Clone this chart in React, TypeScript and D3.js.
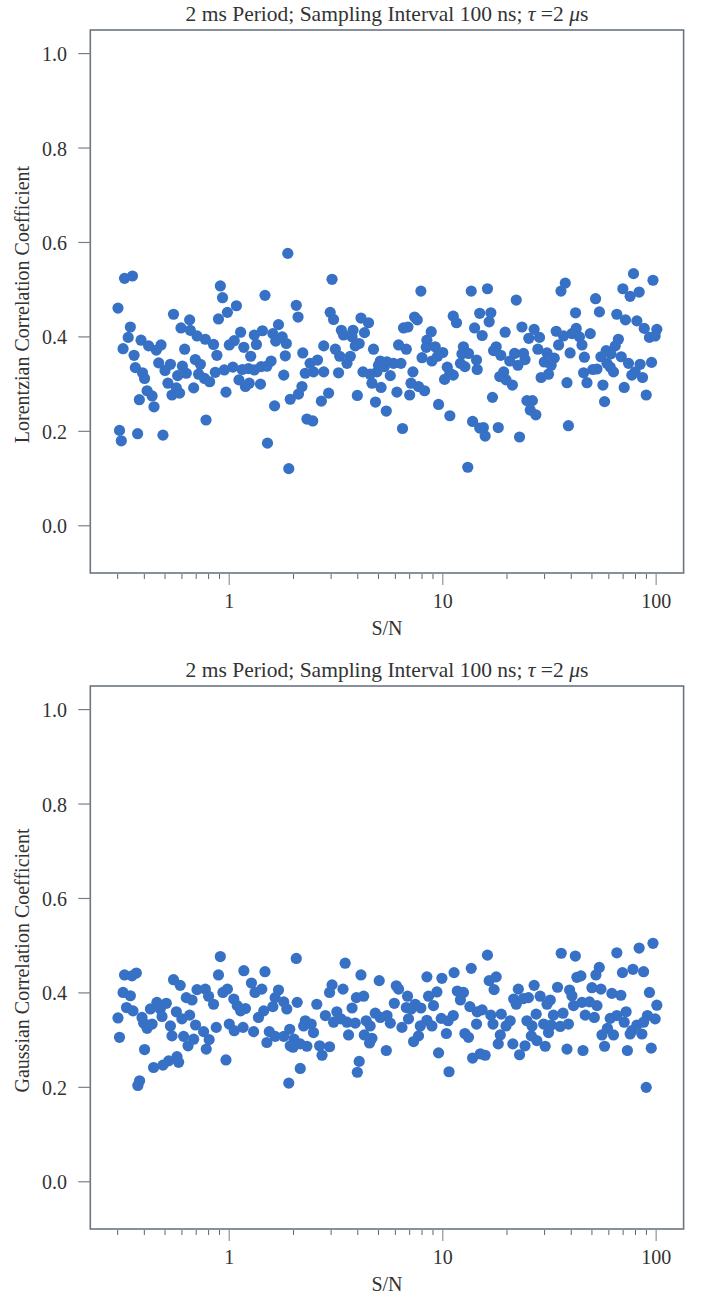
import React from "react";
import * as d3 from "d3";

// ---------- DATA ----------
const titleText = "2 ms Period; Sampling Interval 100 ns; ";
const xLabel = "S/N";
const topYLabel = "Lorentzian Correlation Coefficient";
const bottomYLabel = "Gaussian Correlation Coefficient";
const yTickValues = [0, 0.2, 0.4, 0.6, 0.8, 1.0];
const xMajorTicks = [1, 10, 100];

// Lorentzian panel: S/N and correlation coefficient
const lorentzSN = [
  1.88, 0.323, 0.352, 0.908, 0.93, 1.47, 0.301, 1.08, 0.98, 0.548, 0.89, 0.652, 0.594, 0.344, 0.336, 0.318, 0.386, 0.419, 0.479, 0.455,
  0.358, 0.618, 0.657, 0.706, 0.772, 0.844, 0.875, 1.0, 1.055, 1.13, 1.17, 1.31, 1.43, 1.34, 1.26, 1.6, 1.7, 1.77, 1.65, 1.85,
  1.83, 0.363, 0.392, 0.401, 0.467, 0.5, 0.53, 0.573, 0.603, 0.629, 0.693, 0.732, 0.718, 0.766, 0.809, 0.86, 0.948, 1.04, 1.15, 1.23,
  1.31, 1.41, 1.5, 1.57, 1.8, 1.11, 1.24, 1.19, 1.4, 0.516, 0.565, 0.412, 0.435, 0.379, 0.444, 0.539, 0.585, 0.681, 0.965, 1.63,
  1.93, 0.778, 0.306, 0.312, 0.372, 0.489, 1.51, 1.9,
  3.03, 2.06, 2.1, 2.97, 3.08, 4.14, 4.49, 4.3, 3.35, 3.43, 3.8, 3.76, 4.06, 3.89, 2.77, 3.14, 3.29, 2.21, 4.74, 6.21,
  6.75, 6.55, 6.87, 7.38, 7.6, 7.9, 8.83, 8.43, 8.37, 9.22, 10.0, 8.0, 8.9, 9.46, 11.2, 11.6, 13.6, 14.1, 14.9, 12.5,
  12.3, 13.2, 14.4, 14.5, 12.1, 12.7, 10.5, 10.8, 10.2, 11.2, 7.25, 7.1, 7.7, 8.22, 7.0, 6.1, 5.68, 6.37, 5.88, 5.48,
  5.1, 5.0, 5.32, 4.92, 4.57, 4.23, 4.66, 5.14, 4.84, 5.44, 3.98, 6.48, 9.56, 10.8, 13.8, 13.1, 3.69, 3.56, 3.25, 2.77,
  2.59, 2.39, 2.48, 2.27, 2.19, 2.11, 2.92, 2.7, 2.31, 2.46, 14.9,
  78.3, 96.6, 37.5, 35.8, 69.8, 75.5, 83.2, 52.0, 16.2, 22.1, 16.8, 16.5, 15.3, 19.6, 23.5, 26.8, 25.3, 28.4, 34.0, 36.8,
  34.9, 41.9, 42.2, 40.3, 43.7, 44.9, 49.1, 54.2, 65.4, 71.8, 81.2, 87.9, 100.7, 93.0, 98.9, 66.5, 64.3, 17.8, 17.3, 18.7,
  21.7, 23.9, 24.3, 20.6, 22.5, 27.9, 30.8, 33.3, 29.9, 32.2, 39.5, 46.1, 55.1, 58.3, 61.4, 68.6, 74.2, 58.8, 60.9, 63.1,
  52.8, 50.5, 45.7, 47.4, 56.3, 84.1, 95.1, 79.7, 76.9, 86.3, 70.8, 89.8, 57.3, 38.2, 31.3, 28.9, 19.3, 18.5, 19.8, 21.2,
  17.1, 24.8, 26.3, 25.7, 27.3, 15.5, 15.8, 18.2, 22.9, 38.8,
];
const lorentzR = [
  0.577, 0.524, 0.529, 0.508, 0.483, 0.488, 0.461, 0.466, 0.452, 0.448, 0.438, 0.436, 0.419, 0.421, 0.399, 0.375, 0.393, 0.381, 0.383, 0.372,
  0.361, 0.374, 0.414, 0.402, 0.395, 0.384, 0.361, 0.383, 0.392, 0.41, 0.378, 0.404, 0.413, 0.384, 0.359, 0.407, 0.426, 0.4, 0.391, 0.386,
  0.36, 0.335, 0.324, 0.312, 0.345, 0.329, 0.342, 0.318, 0.338, 0.323, 0.352, 0.342, 0.321, 0.312, 0.305, 0.325, 0.33, 0.336, 0.331, 0.333,
  0.33, 0.337, 0.338, 0.349, 0.319, 0.309, 0.302, 0.295, 0.3, 0.302, 0.292, 0.286, 0.275, 0.267, 0.252, 0.277, 0.281, 0.292, 0.283, 0.254,
  0.268, 0.224, 0.202, 0.18, 0.195, 0.192, 0.175, 0.121,
  0.522, 0.467, 0.442, 0.452, 0.437, 0.44, 0.43, 0.409, 0.414, 0.404, 0.414, 0.4, 0.386, 0.381, 0.381, 0.374, 0.359, 0.366, 0.374, 0.383,
  0.374, 0.419, 0.421, 0.442, 0.436, 0.497, 0.411, 0.393, 0.378, 0.379, 0.367, 0.356, 0.349, 0.359, 0.444, 0.43, 0.497, 0.419, 0.45, 0.379,
  0.364, 0.365, 0.351, 0.331, 0.344, 0.337, 0.336, 0.323, 0.31, 0.319, 0.326, 0.302, 0.295, 0.286, 0.277, 0.283, 0.318, 0.344, 0.344, 0.347,
  0.349, 0.34, 0.337, 0.326, 0.321, 0.326, 0.302, 0.293, 0.262, 0.243, 0.276, 0.206, 0.257, 0.233, 0.221, 0.124, 0.359, 0.344, 0.324, 0.326,
  0.351, 0.344, 0.326, 0.323, 0.295, 0.279, 0.281, 0.264, 0.226, 0.222, 0.207,
  0.534, 0.52, 0.514, 0.497, 0.502, 0.486, 0.495, 0.481, 0.502, 0.478, 0.451, 0.432, 0.403, 0.41, 0.421, 0.416, 0.397, 0.399, 0.412, 0.402,
  0.383, 0.451, 0.418, 0.407, 0.4, 0.383, 0.407, 0.453, 0.448, 0.436, 0.434, 0.418, 0.416, 0.399, 0.402, 0.395, 0.381, 0.379, 0.371, 0.361,
  0.365, 0.365, 0.352, 0.349, 0.34, 0.374, 0.366, 0.355, 0.347, 0.34, 0.366, 0.357, 0.358, 0.371, 0.364, 0.358, 0.344, 0.344, 0.336, 0.326,
  0.332, 0.331, 0.324, 0.303, 0.298, 0.342, 0.346, 0.326, 0.319, 0.314, 0.293, 0.277, 0.263, 0.303, 0.321, 0.314, 0.326, 0.316, 0.309, 0.298,
  0.272, 0.265, 0.265, 0.245, 0.235, 0.208, 0.19, 0.208, 0.188, 0.212,
];

// Gaussian panel: S/N and correlation coefficient
const gaussSN = [
  0.908, 0.323, 0.35, 0.367, 0.89, 1.17, 1.47, 0.548, 0.589, 0.318, 0.344, 0.629, 0.669, 0.706, 0.772, 0.8, 0.844, 0.934, 0.98, 1.05,
  1.09, 1.19, 1.13, 1.27, 1.32, 1.42, 1.7, 1.64, 1.8, 1.6, 1.45, 1.37, 0.33, 0.354, 0.301, 0.39, 0.427, 0.458, 0.507, 0.475,
  0.484, 0.565, 0.6, 0.652, 0.397, 0.412, 0.435, 0.53, 0.539, 0.695, 0.758, 0.611, 0.681, 0.641, 0.805, 0.78, 0.869, 1.0, 1.055, 1.16,
  1.3, 1.54, 1.64, 1.8, 1.5, 1.93, 0.306, 0.401, 0.442, 0.489, 0.52, 0.569, 0.579, 0.38, 0.373, 0.965, 1.9,
  2.06, 3.49, 4.14, 5.04, 8.43, 9.91, 11.3, 13.6, 3.03, 2.95, 3.41, 3.94, 4.26, 3.76, 6.06, 6.21, 6.84, 5.93, 6.75, 7.43,
  7.9, 7.12, 8.58, 9.39, 9.05, 11.7, 12.5, 12.1, 13.4, 14.5, 1.86, 2.08, 2.57, 2.82, 3.19, 3.34, 3.08, 3.56, 3.89, 4.38,
  4.83, 5.1, 5.48, 4.57, 5.68, 6.44, 6.91, 8.43, 8.9, 7.85, 9.84, 10.6, 11.2, 14.4, 2.27, 2.23, 2.42, 2.48, 1.92, 2.01,
  1.99, 2.15, 2.31, 2.65, 2.95, 2.72, 3.62, 4.29, 4.54, 4.66, 5.44, 7.3, 7.7, 10.4, 12.7, 13.2, 9.56, 13.8, 4.06, 3.98,
  2.15, 10.7, 15.0,
  96.6, 83.2, 65.4, 35.9, 41.8, 16.2, 77.8, 69.5, 87.3, 54.1, 52.2, 44.4, 42.5, 17.8, 16.5, 17.4, 26.8, 22.6, 34.5, 39.3,
  40.3, 50.0, 55.1, 62.0, 68.3, 93.0, 100.7, 21.5, 23.9, 25.2, 22.1, 28.6, 31.9, 30.8, 41.0, 44.9, 48.7, 52.8, 15.3, 16.8,
  18.8, 27.4, 24.8, 33.0, 36.6, 46.5, 51.3, 60.9, 65.4, 72.3, 91.0, 98.9, 17.2, 20.7, 19.8, 26.2, 29.7, 32.2, 35.5, 38.8,
  59.1, 70.8, 81.2, 76.9, 87.3, 18.6, 31.3, 26.0, 55.7, 63.1, 75.5, 85.7, 18.2, 21.3, 24.3, 27.6, 30.2, 38.2, 45.4, 57.3,
  73.3, 94.8, 15.8, 22.9, 89.8,
];
const gaussR = [
  0.477, 0.438, 0.436, 0.442, 0.438, 0.447, 0.445, 0.428, 0.416, 0.401, 0.394, 0.39, 0.385, 0.407, 0.408, 0.393, 0.376, 0.401, 0.408, 0.387,
  0.373, 0.367, 0.362, 0.421, 0.401, 0.408, 0.406, 0.39, 0.381, 0.371, 0.362, 0.348, 0.369, 0.362, 0.347, 0.348, 0.366, 0.38, 0.378, 0.366,
  0.35, 0.36, 0.345, 0.353, 0.336, 0.325, 0.334, 0.33, 0.309, 0.332, 0.318, 0.308, 0.302, 0.288, 0.301, 0.281, 0.327, 0.334, 0.32, 0.327,
  0.318, 0.318, 0.308, 0.308, 0.295, 0.288, 0.306, 0.28, 0.242, 0.247, 0.256, 0.265, 0.253, 0.214, 0.204, 0.258, 0.209,
  0.473, 0.463, 0.438, 0.426, 0.434, 0.431, 0.443, 0.452, 0.417, 0.401, 0.408, 0.39, 0.393, 0.368, 0.415, 0.408, 0.393, 0.378, 0.369, 0.376,
  0.368, 0.366, 0.393, 0.402, 0.373, 0.404, 0.401, 0.385, 0.371, 0.36, 0.366, 0.38, 0.376, 0.352, 0.36, 0.345, 0.338, 0.338, 0.336, 0.341,
  0.357, 0.348, 0.352, 0.33, 0.336, 0.327, 0.345, 0.342, 0.33, 0.33, 0.346, 0.341, 0.352, 0.334, 0.341, 0.33, 0.334, 0.316, 0.323, 0.302,
  0.285, 0.292, 0.287, 0.288, 0.286, 0.268, 0.311, 0.311, 0.294, 0.304, 0.278, 0.297, 0.309, 0.314, 0.314, 0.306, 0.273, 0.262, 0.255, 0.232,
  0.24, 0.233, 0.271,
  0.505, 0.495, 0.485, 0.484, 0.478, 0.48, 0.45, 0.443, 0.445, 0.454, 0.438, 0.436, 0.433, 0.434, 0.426, 0.407, 0.416, 0.408, 0.412, 0.406,
  0.394, 0.411, 0.408, 0.399, 0.395, 0.401, 0.374, 0.387, 0.388, 0.39, 0.376, 0.393, 0.385, 0.376, 0.373, 0.38, 0.381, 0.373, 0.364, 0.353,
  0.355, 0.355, 0.341, 0.353, 0.357, 0.353, 0.348, 0.346, 0.352, 0.36, 0.352, 0.345, 0.334, 0.341, 0.33, 0.33, 0.334, 0.332, 0.329, 0.334,
  0.325, 0.338, 0.332, 0.32, 0.338, 0.311, 0.316, 0.309, 0.311, 0.311, 0.313, 0.313, 0.292, 0.292, 0.288, 0.299, 0.287, 0.281, 0.278, 0.287,
  0.278, 0.283, 0.268, 0.269, 0.2,
];

// ---------- STYLE ----------
const FONT = "'Liberation Serif', 'Times New Roman', serif";
const TEXT = "#333";
const FRAME = "#6c7580";
const DOT = "#3671c6";

const W = 704;
const H = 1296;
const frame = { left: 90.3, right: 683.6, top: 30, bottom: 573 };

const xScale = d3.scaleLog().domain([0.2233, 134.4]).range([frame.left, frame.right]);
const yScale = d3.scaleLinear().domain([-0.1, 1.05]).range([frame.bottom, frame.top]);

function Title() {
  return (
    <text x={(frame.left + frame.right) / 2} y={21} textAnchor="middle" fontSize={21.5} fill={TEXT} fontFamily={FONT}>
      {titleText}
      <tspan fontStyle="italic">τ</tspan>
      {" =2 "}
      <tspan fontStyle="italic">μ</tspan>
      {"s"}
    </text>
  );
}

function Panel({ offset, sn, r, yLabel }: { offset: number; sn: number[]; r: number[]; yLabel: string }) {
  const xTicks = xScale.ticks();
  const cy = (frame.top + frame.bottom) / 2;
  return (
    <g transform={`translate(0,${offset})`}>
      <Title />
      {/* points */}
      <g>
        {sn.map((s, i) => (
          <circle key={i} cx={xScale(s)} cy={yScale(r[i])} r={5.6} fill={DOT} />
        ))}
      </g>
      {/* frame */}
      <rect
        x={frame.left}
        y={frame.top}
        width={frame.right - frame.left}
        height={frame.bottom - frame.top}
        fill="none"
        stroke={FRAME}
        strokeWidth={1.6}
      />
      {/* y axis */}
      {yTickValues.map((v) => (
        <g key={v}>
          <line x1={frame.left - 12} x2={frame.left} y1={yScale(v)} y2={yScale(v)} stroke="#7a7f86" strokeWidth={1.2} />
          <text x={67} y={yScale(v) + 7.5} textAnchor="end" fontSize={20} fill={TEXT} fontFamily={FONT}>
            {v.toFixed(1)}
          </text>
        </g>
      ))}
      <text
        transform={`translate(29,${cy + 3}) rotate(-90)`}
        textAnchor="middle"
        fontSize={20}
        fill={TEXT}
        fontFamily={FONT}
      >
        {yLabel}
      </text>
      {/* x axis */}
      {xTicks.map((t, i) => {
        const major = xMajorTicks.some((m) => Math.abs(m - t) < 1e-9);
        return (
          <line
            key={i}
            x1={xScale(t)}
            x2={xScale(t)}
            y1={frame.bottom + 1}
            y2={frame.bottom + (major ? 12 : 6)}
            stroke={major ? "#a4a8ad" : "#60666d"}
            strokeWidth={major ? 1.5 : 1}
          />
        );
      })}
      {xMajorTicks.map((t) => (
        <text key={t} x={xScale(t)} y={608} textAnchor="middle" fontSize={20} fill={TEXT} fontFamily={FONT}>
          {String(t)}
        </text>
      ))}
      <text x={(frame.left + frame.right) / 2} y={635} textAnchor="middle" fontSize={20} fill={TEXT} fontFamily={FONT}>
        {xLabel}
      </text>
    </g>
  );
}

export default function App() {
  return (
    <svg
      width={W}
      height={H}
      viewBox={`0 0 ${W} ${H}`}
      style={{ position: "absolute", left: 0, top: 0, background: "#fff", display: "block" }}
    >
      <rect x={0} y={0} width={W} height={H} fill="#fff" />
      <Panel offset={0} sn={lorentzSN} r={lorentzR} yLabel={topYLabel} />
      <Panel offset={656} sn={gaussSN} r={gaussR} yLabel={bottomYLabel} />
    </svg>
  );
}
